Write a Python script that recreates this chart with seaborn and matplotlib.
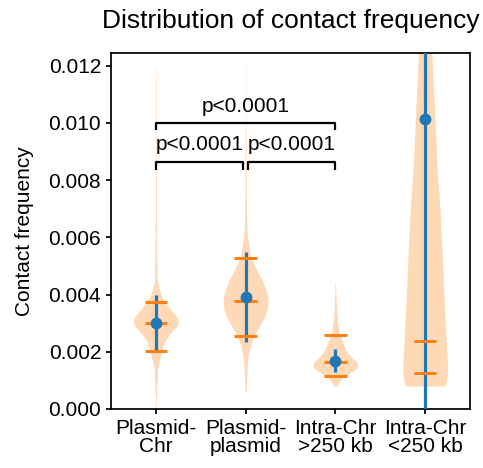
import numpy as np
import pandas as pd
import matplotlib
matplotlib.use("Agg")
import matplotlib.pyplot as plt
from matplotlib.ticker import FormatStrFormatter
import seaborn as sns

# categories on the x axis
categories = ["Plasmid-\nChr", "Plasmid-\nplasmid", "Intra-Chr\n>250 kb", "Intra-Chr\n<250 kb"]

# contact frequency values and how often they occur
pc_vals = [0.0001, 0.0006, 0.0011,
           0.0016, 0.0018, 0.0020, 0.0022, 0.0024, 0.0026, 0.0028, 0.0030,
           0.0032, 0.0034, 0.0036, 0.0038, 0.0040, 0.0042, 0.0044,
           0.0049, 0.0054, 0.0059, 0.0064, 0.0069, 0.0074, 0.0079, 0.0084,
           0.0089, 0.0094, 0.0099, 0.0104, 0.0109, 0.0114, 0.0119]
pc_counts = [1, 3, 6,
             6, 7, 9, 11, 15, 21, 30, 44,
             37, 28, 19, 12, 7, 5, 4,
             5, 4, 3, 3, 2, 2, 2, 1,
             1, 1, 1, 1, 1, 1, 1]

pp_vals = [0.0006, 0.0010, 0.0014,
           0.0018, 0.0020, 0.0022, 0.0024, 0.0026, 0.0028, 0.0030, 0.0032,
           0.0034, 0.0036, 0.0038, 0.0040, 0.0042, 0.0044, 0.0046, 0.0048,
           0.0050, 0.0052, 0.0054, 0.0056, 0.0058, 0.0060,
           0.0065, 0.0070, 0.0075, 0.0080, 0.0085, 0.0090, 0.0095, 0.0100,
           0.0105, 0.0110, 0.0115, 0.0120]
pp_counts = [2, 4, 6,
             5, 6, 8, 12, 16, 22, 32, 36,
             41, 44, 44, 42, 39, 34, 29, 23,
             17, 11, 8, 7, 6, 5,
             6, 4, 3, 3, 2, 2, 2, 1,
             1, 1, 1, 1]

ic_far_vals = [0.0008, 0.0009, 0.0010, 0.0011, 0.0012, 0.0013, 0.0014, 0.0015,
               0.0016, 0.0017, 0.0018, 0.0019, 0.0020, 0.0021, 0.0022, 0.0023,
               0.0024, 0.0025, 0.0026,
               0.0028, 0.0030, 0.0032, 0.0034, 0.0036, 0.0038, 0.0040, 0.0042, 0.0044]
ic_far_counts = [3, 6, 8, 14, 22, 32, 40, 46,
                 44, 38, 31, 26, 22, 19, 17, 15,
                 13, 11, 10,
                 13, 9, 7, 5, 4, 3, 2, 2, 1]

ic_near_vals = [0.0008, 0.0016, 0.0024, 0.0032, 0.0040, 0.0048, 0.0056, 0.0064,
                0.0072, 0.0080, 0.0088, 0.0096, 0.0104, 0.0112, 0.0120, 0.0128,
                0.0136, 0.0144, 0.0152, 0.0160, 0.0168]
ic_near_counts = [25, 21, 20, 19, 18, 17, 16, 15,
                  14, 12, 11, 10, 9, 8, 7, 6,
                  5, 4, 3, 2, 1]

# summary marks
mean_vals = [0.00302, 0.00391, 0.00169, 0.01015]
sd_vals = [0.00095, 0.00156, 0.00041, 0.0125]
q_low = [0.00204, 0.00254, 0.00116, 0.00127]
q_mid = [0.00302, 0.00379, 0.00163, 0.00238]
q_high = [0.00375, 0.00529, 0.00259, np.nan]

# significance brackets: (left group, right group, label)
comparisons = [(0, 1, "p<0.0001"), (1, 2, "p<0.0001"), (0, 2, "p<0.0001")]

groups = [(pc_vals, pc_counts), (pp_vals, pp_counts),
          (ic_far_vals, ic_far_counts), (ic_near_vals, ic_near_counts)]
frames = []
for cat, (vals, counts) in zip(categories, groups):
    frames.append(pd.DataFrame({"group": cat, "value": np.repeat(vals, counts)}))
df = pd.concat(frames, ignore_index=True)

# kernel bandwidth per violin (in data units)
bandwidths = [0.0002, 0.00025, 0.0001, 0.0006]

sns.set_style("ticks", {"axes.edgecolor": "black", "text.color": "black",
                        "xtick.color": "black", "ytick.color": "black",
                        "axes.labelcolor": "black"})
plt.rcParams["font.family"] = ["Liberation Sans", "DejaVu Sans"]

fig = plt.figure(figsize=(4.83, 4.68), dpi=100)
ax = fig.add_axes([0.2298, 0.1261, 0.7433, 0.7613])

blue = "#1f77b4"
orange = "#ff7f0e"

for cat, bw in zip(categories, bandwidths):
    sub = df[df["group"] == cat]
    sns.violinplot(data=sub, x="group", y="value", order=categories, inner=None,
                   cut=0, density_norm="width", width=0.5, gridsize=400,
                   bw_method=bw / sub["value"].std(), color=orange,
                   saturation=1, alpha=0.3, linewidth=0, ax=ax)

x = np.arange(len(categories))
ax.errorbar(x, mean_vals, yerr=sd_vals, fmt="none", ecolor=blue,
            elinewidth=2.3, zorder=3)
for q in (q_low, q_mid, q_high):
    ax.hlines(q, x - 0.125, x + 0.125, color=orange, lw=2.1, zorder=4)
ax.plot(x, mean_vals, "o", color=blue, ms=7.5, zorder=5)

# brackets
levels = {(0, 1): (0.00864, 0.00835, 0.00905),
          (1, 2): (0.00864, 0.00835, 0.00905),
          (0, 2): (0.01001, 0.00975, 0.01039)}
for a, b, label in comparisons:
    y, y_end, ty = levels[(a, b)]
    x0, x1 = a, b
    if b - a == 1:
        x0 = a + (0.03 if a > 0 else 0)
        x1 = b - (0.03 if b < 2 else 0)
    ax.plot([x0, x0, x1, x1], [y_end, y, y, y_end], color="black", lw=1.6,
            solid_capstyle="butt", zorder=6)
    ax.text((x0 + x1) / 2, ty, label, ha="center", va="baseline", fontsize=15)

ax.set_xlim(-0.5, 3.5)
ax.set_ylim(0, 0.01245)
ax.set_yticks(np.arange(0, 0.0121, 0.002))
ax.yaxis.set_major_formatter(FormatStrFormatter("%.3f"))
ax.set_xlabel("")
ax.set_ylabel("Contact frequency", fontsize=15, labelpad=10.5)
ax.set_title("Distribution of contact frequency", fontsize=19, pad=17.5)
ax.tick_params(labelsize=15, width=1.25, length=3.6)
for label in ax.get_xticklabels():
    label.set_linespacing(0.95)
for spine in ax.spines.values():
    spine.set_linewidth(1.25)

fig.savefig("out.png", dpi=100)
